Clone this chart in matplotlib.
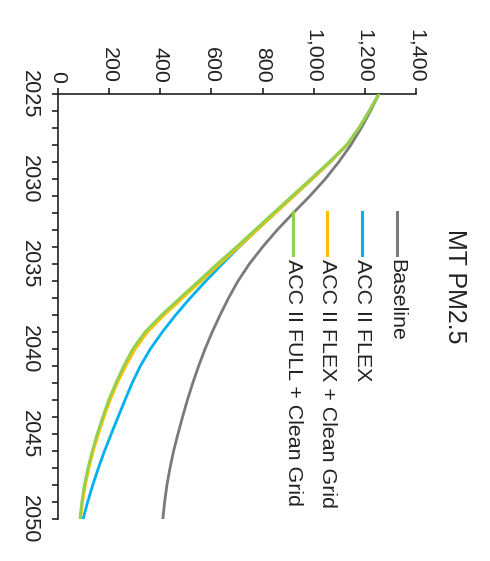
import matplotlib
matplotlib.use("Agg")
import matplotlib.pyplot as plt
from matplotlib.ticker import MultipleLocator, FuncFormatter
from matplotlib.lines import Line2D

plt.rcParams['font.family'] = ['Liberation Sans', 'DejaVu Sans']

# Data
years = list(range(2025, 2051))
baseline = [1255, 1222, 1186, 1145, 1098, 1045, 985, 920, 857, 800, 748, 704, 667,
            634, 603, 575, 550, 527, 506, 487, 469, 452, 438, 426, 417, 410]
acc_flex = [1255, 1217, 1177, 1130, 1065, 994, 922, 850, 778, 708, 642, 578, 517,
            460, 408, 361, 322, 290, 262, 235, 208, 182, 158, 136, 116, 98]
acc_flex_cg = [1255, 1217, 1177, 1130, 1065, 994, 922, 850, 778, 706, 632, 560, 487,
               415, 350, 302, 265, 232, 204, 180, 158, 138, 121, 107, 96, 88]
acc_full_cg = [1255, 1217, 1177, 1128, 1060, 988, 915, 842, 770, 697, 622, 550, 477,
               405, 340, 292, 257, 226, 198, 175, 153, 134, 117, 103, 93, 86]

series_names = ["Baseline", "ACC II FLEX", "ACC II FLEX + Clean Grid",
                "ACC II FULL + Clean Grid"]
series_values = [baseline, acc_flex, acc_flex_cg, acc_full_cg]
series_colors = ["#7a7a7a", "#00b0f0", "#ffc000", "#92d050"]

value_ticks = [0, 200, 400, 600, 800, 1000, 1200, 1400]
title = "MT PM2.5"

W, H = 490, 561
fig = plt.figure(figsize=(W / 100, H / 100), dpi=100)


def fx(px):
    return px / W


def fy(py):
    return 1 - py / H


# Chart turned on its side: values run left→right, years run top→bottom
ax = fig.add_axes([fx(58), fy(519), fx(416) - fx(58), fy(94) - fy(519)])

for vals, col in zip(series_values, series_colors):
    ax.plot(vals, years, color=col, lw=2.0, solid_capstyle='round',
            solid_joinstyle='round', zorder=3)

ax.set_xlim(0, 1400)
ax.set_ylim(2050, 2025)
ax.xaxis.tick_top()
ax.set_xticks(value_ticks)
ax.xaxis.set_major_formatter(FuncFormatter(lambda v, p: f"{int(v):,}"))
ax.yaxis.set_major_locator(MultipleLocator(5))
ax.yaxis.set_minor_locator(MultipleLocator(1))
ax.yaxis.set_major_formatter(FuncFormatter(lambda v, p: f"{int(v)}"))

for s in ['right', 'bottom']:
    ax.spines[s].set_visible(False)
for s in ['top', 'left']:
    ax.spines[s].set_linewidth(1.2)
    ax.spines[s].set_color('#222222')

ax.tick_params(axis='x', which='major', direction='out', length=4.5, width=1.2,
               color='#222222', pad=3.5, labelsize=15.4, labelrotation=-90,
               labelcolor='#222222')
ax.tick_params(axis='y', which='both', direction='out', length=4.5, width=1.2,
               color='#222222', pad=8.5, labelsize=15.6, labelrotation=-90,
               labelcolor='#222222')
for lab in ax.get_yticklabels():
    lab.set_va('center')

# Title, turned to read top→bottom
fig.text(fx(455), fy(286), title, rotation=-90, ha='center', va='center',
         fontsize=18, color='#222222')

# Legend, built to match the sideways layout
cols_x = [397, 362, 327, 293]
for name, col, cx in zip(series_names, series_colors, cols_x):
    fig.add_artist(Line2D([fx(cx), fx(cx)], [fy(212), fy(255)], color=col, lw=2.2,
                          transform=fig.transFigure))
    fig.text(fx(cx), fy(259), name, rotation=-90, ha='center', va='top',
             fontsize=15.4, color='#222222')

fig.savefig("out.png", dpi=100)
